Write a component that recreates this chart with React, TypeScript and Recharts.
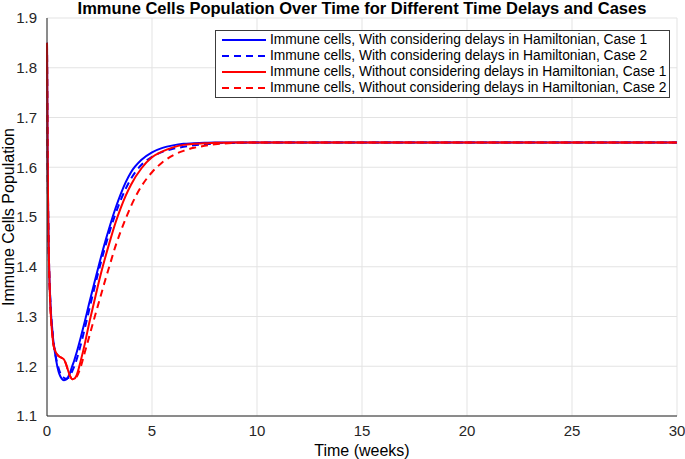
import React from 'react';
import { LineChart, Line, XAxis, YAxis, CartesianGrid } from 'recharts';

// time samples (weeks), shared by all series
const weeks = [
  0, 0.03, 0.06, 0.1, 0.15, 0.2, 0.25, 0.3, 0.4, 0.5, 0.6, 0.7, 0.8, 0.9, 1.0, 1.1, 1.2, 1.3, 1.4, 1.6, 1.8,
  2.0, 2.25, 2.5, 2.75, 3.0, 3.25, 3.5, 3.75, 4.0, 4.5, 5.0, 5.5, 6.0, 6.5, 7.0, 7.5, 8, 9, 10, 12, 15, 20, 25, 30,
];

const withDelaysCase1 = [
  1.85, 1.62, 1.49, 1.4, 1.34, 1.3, 1.275, 1.252, 1.222, 1.198, 1.183, 1.175, 1.172, 1.173, 1.178, 1.187, 1.2, 1.212, 1.226, 1.257, 1.29,
  1.325, 1.367, 1.408, 1.447, 1.483, 1.516, 1.545, 1.57, 1.59, 1.615, 1.63, 1.639, 1.644, 1.647, 1.648, 1.649, 1.65, 1.65, 1.65, 1.65, 1.65, 1.65, 1.65, 1.65,
];

const withDelaysCase2 = [
  1.85, 1.62, 1.49, 1.4, 1.34, 1.3, 1.275, 1.253, 1.224, 1.204, 1.19, 1.181, 1.177, 1.175, 1.176, 1.181, 1.19, 1.2, 1.212, 1.242, 1.276,
  1.312, 1.356, 1.398, 1.437, 1.473, 1.505, 1.533, 1.557, 1.577, 1.605, 1.621, 1.631, 1.637, 1.641, 1.644, 1.646, 1.648, 1.649, 1.65, 1.65, 1.65, 1.65, 1.65, 1.65,
];

const withoutDelaysCase1 = [
  1.85, 1.62, 1.49, 1.4, 1.33, 1.29, 1.265, 1.245, 1.23, 1.223, 1.219, 1.217, 1.214, 1.205, 1.192, 1.18, 1.174, 1.175, 1.181, 1.21, 1.245,
  1.285, 1.33, 1.375, 1.415, 1.452, 1.487, 1.517, 1.543, 1.565, 1.598, 1.62, 1.632, 1.64, 1.645, 1.647, 1.648, 1.649, 1.65, 1.65, 1.65, 1.65, 1.65, 1.65, 1.65,
];

const withoutDelaysCase2 = [
  1.85, 1.62, 1.49, 1.4, 1.33, 1.29, 1.265, 1.245, 1.23, 1.223, 1.219, 1.217, 1.214, 1.205, 1.192, 1.18, 1.174, 1.174, 1.178, 1.198, 1.228,
  1.258, 1.296, 1.333, 1.37, 1.405, 1.44, 1.47, 1.497, 1.522, 1.562, 1.59, 1.61, 1.624, 1.633, 1.639, 1.643, 1.646, 1.649, 1.65, 1.65, 1.65, 1.65, 1.65, 1.65,
];

const xTicks = [0, 5, 10, 15, 20, 25, 30];
const yTicks = [1.1, 1.2, 1.3, 1.4, 1.5, 1.6, 1.7, 1.8, 1.9];

const series = [
  { key: 'b1', name: 'Immune cells, With considering delays in Hamiltonian, Case 1', color: '#0000ff', dash: undefined },
  { key: 'b2', name: 'Immune cells, With considering delays in Hamiltonian, Case 2', color: '#0000ff', dash: '7 5' },
  { key: 'r1', name: 'Immune cells, Without considering delays in Hamiltonian, Case 1', color: '#ff0000', dash: undefined },
  { key: 'r2', name: 'Immune cells, Without considering delays in Hamiltonian, Case 2', color: '#ff0000', dash: '7 5' },
];

const data = weeks.map((t, i) => ({
  t,
  b1: withDelaysCase1[i],
  b2: withDelaysCase2[i],
  r1: withoutDelaysCase1[i],
  r2: withoutDelaysCase2[i],
}));

const FONT = '"Liberation Sans", Arial, Helvetica, sans-serif';

const LegendBox = () => (
  <div
    style={{
      position: 'absolute',
      left: 215,
      top: 30,
      width: 449,
      height: 65,
      boxSizing: 'content-box',
      border: '1px solid #3c3c3c',
      background: '#fff',
      padding: '1px 0 0 4px',
      fontFamily: FONT,
      fontSize: 13.8,
      color: '#000',
      lineHeight: '16px',
    }}
  >
    {series.map((s) => (
      <div key={s.key} style={{ display: 'flex', alignItems: 'center', whiteSpace: 'nowrap', height: 16 }}>
        <svg width={48} height={10} style={{ marginRight: 2, flex: 'none' }}>
          <line x1={2} y1={5} x2={46} y2={5} stroke={s.color} strokeWidth={2} strokeDasharray={s.dash} />
        </svg>
        <span>{s.name}</span>
      </div>
    ))}
  </div>
);

export default function App() {
  return (
    <div style={{ position: 'absolute', left: 0, top: 0, width: 685, height: 459, background: '#fff', fontFamily: FONT }}>
      <LineChart width={685} height={459} data={data} margin={{ top: 18, right: 8, left: 9, bottom: 13 }}>
        <CartesianGrid stroke="#e3e3e3" strokeWidth={1} />
        <XAxis
          dataKey="t"
          type="number"
          domain={[0, 30]}
          ticks={xTicks}
          tickLine={false}
          axisLine={{ stroke: '#262626', strokeWidth: 1 }}
          tick={{ fill: '#262626', fontSize: 15, fontFamily: FONT }}
          tickMargin={3}
          height={30}
          label={{ value: 'Time (weeks)', position: 'insideBottom', offset: -10, fill: '#000', fontSize: 16, fontFamily: FONT }}
        />
        <YAxis
          type="number"
          domain={[1.1, 1.9]}
          ticks={yTicks}
          tickFormatter={(v: number) => v.toFixed(1)}
          tickLine={false}
          axisLine={{ stroke: '#262626', strokeWidth: 1 }}
          tick={{ fill: '#262626', fontSize: 15, fontFamily: FONT }}
          tickMargin={4}
          width={38}
          allowDataOverflow
          label={{
            value: 'Immune Cells Population',
            angle: -90,
            position: 'insideLeft',
            offset: -1,
            style: { textAnchor: 'middle' },
            fill: '#000',
            fontSize: 16,
            fontFamily: FONT,
          }}
        />
        {series.map((s) => (
          <Line
            key={s.key}
            dataKey={s.key}
            name={s.name}
            type="monotone"
            stroke={s.color}
            strokeWidth={2}
            strokeDasharray={s.dash}
            dot={false}
            activeDot={false}
            isAnimationActive={false}
          />
        ))}
      </LineChart>
      <div
        style={{
          position: 'absolute',
          top: -1,
          left: 47,
          width: 630,
          textAlign: 'center',
          fontWeight: 'bold',
          fontSize: 16.5,
          lineHeight: '18px',
          color: '#000',
          whiteSpace: 'nowrap',
        }}
      >
        Immune Cells Population Over Time for Different Time Delays and Cases
      </div>
      <LegendBox />
    </div>
  );
}
